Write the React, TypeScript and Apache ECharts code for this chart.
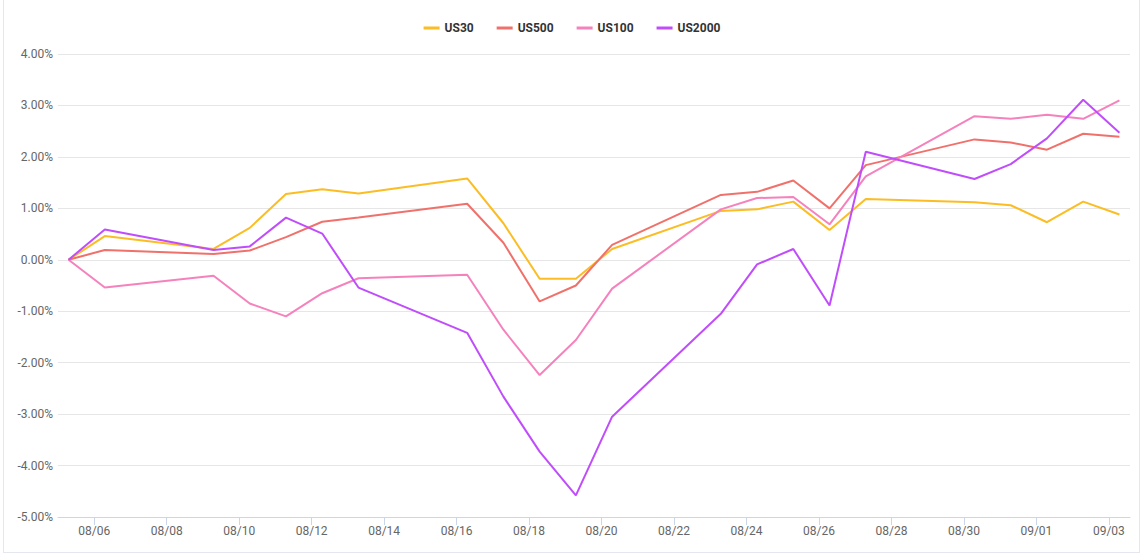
import React, { useEffect, useRef } from "react";
import * as echarts from "echarts";

// Trading dates (2021), month-day
const dates: string[] = [
  "08-05", "08-06", "08-09", "08-10", "08-11", "08-12", "08-13",
  "08-16", "08-17", "08-18", "08-19", "08-20",
  "08-23", "08-24", "08-25", "08-26", "08-27",
  "08-30", "08-31", "09-01", "09-02", "09-03",
];

const seriesNames: string[] = ["US30", "US500", "US100", "US2000"];

const us30: number[] = [0, 0.46, 0.21, 0.62, 1.28, 1.37, 1.29, 1.58, 0.71, -0.37, -0.37, 0.21, 0.95, 0.98, 1.13, 0.58, 1.18, 1.12, 1.06, 0.73, 1.13, 0.88];
const us500: number[] = [0, 0.19, 0.11, 0.18, 0.44, 0.74, 0.82, 1.09, 0.33, -0.81, -0.5, 0.29, 1.26, 1.32, 1.54, 1.0, 1.84, 2.34, 2.28, 2.14, 2.45, 2.39];
const us100: number[] = [0, -0.54, -0.31, -0.85, -1.1, -0.65, -0.36, -0.29, -1.36, -2.24, -1.56, -0.56, 0.98, 1.2, 1.22, 0.69, 1.62, 2.79, 2.74, 2.82, 2.74, 3.1];
const us2000: number[] = [0, 0.59, 0.19, 0.26, 0.82, 0.51, -0.54, -1.42, -2.66, -3.73, -4.58, -3.05, -1.05, -0.09, 0.21, -0.89, 2.1, 1.57, 1.86, 2.36, 3.11, 2.47];

// x-axis tick labels
const tickDates: string[] = [
  "08-06", "08-08", "08-10", "08-12", "08-14", "08-16", "08-18", "08-20",
  "08-22", "08-24", "08-26", "08-28", "08-30", "09-01", "09-03",
];

const colors: string[] = ["#fbbd23", "#f0716b", "#f582bd", "#c04dfb"];

const YEAR = 2021;
const SAMPLE_HOUR = 7; // time of day the samples are stamped

function ts(md: string, hour = 0): number {
  const [m, d] = md.split("-").map(Number);
  return Date.UTC(YEAR, m - 1, d, hour);
}

function fmt(v: number): string {
  const d = new Date(v);
  const p = (n: number) => (n < 10 ? "0" + n : "" + n);
  return p(d.getUTCMonth() + 1) + "/" + p(d.getUTCDate());
}

export default function App() {
  const ref = useRef<HTMLDivElement>(null);

  useEffect(() => {
    if (!ref.current) return;
    const chart = echarts.init(ref.current, null, { renderer: "svg" });
    const all = [us30, us500, us100, us2000];
    const tickVals = tickDates.map((d) => ts(d));
    const xMin = ts(dates[0]);
    const xMax = ts(dates[dates.length - 1], SAMPLE_HOUR * 2);

    chart.setOption({
      animation: false,
      color: colors,
      textStyle: { fontFamily: "Roboto, 'Noto Sans', sans-serif" },
      legend: {
        left: "center",
        top: 17,
        icon: "rect",
        itemWidth: 16,
        itemHeight: 3,
        itemGap: 23,
        textStyle: { color: "#333", fontWeight: "bold", fontSize: 12 },
        data: seriesNames,
      },
      grid: { left: 58, right: 14, top: 54, bottom: 41 },
      xAxis: {
        type: "value",
        min: xMin,
        max: xMax,
        axisLine: { show: true, onZero: false, lineStyle: { color: "#ccd6eb" } },
        axisTick: { show: true, length: 8, lineStyle: { color: "#ccd6eb" }, customValues: tickVals },
        axisLabel: {
          color: "#666",
          fontSize: 12,
          margin: 8,
          customValues: tickVals,
          formatter: (v: number) => fmt(v),
        },
        splitLine: { show: false },
      },
      yAxis: {
        type: "value",
        min: -5,
        max: 4,
        interval: 1,
        axisLine: { show: false },
        axisTick: { show: false },
        axisLabel: {
          color: "#666",
          fontSize: 12,
          margin: 5,
          formatter: (v: number) => v.toFixed(2) + "%",
        },
        splitLine: { lineStyle: { color: "#e6e6e6" } },
      },
      series: seriesNames.map((name, i) => ({
        name,
        type: "line",
        symbol: "none",
        showSymbol: false,
        lineStyle: { width: 2 },
        data: dates.map((d, k) => [ts(d, SAMPLE_HOUR), all[i][k]]),
      })),
    });
    return () => chart.dispose();
  }, []);

  return (
    <div style={{ position: "absolute", left: 0, top: 0, width: 1144, height: 558 }}>
      <div ref={ref} style={{ position: "absolute", left: 0, top: 0, width: 1144, height: 558 }} />
      <div
        style={{
          position: "absolute",
          left: 3,
          top: -1,
          width: 1135,
          height: 552,
          border: "1px solid #e4e7ed",
          pointerEvents: "none",
        }}
      />
    </div>
  );
}
